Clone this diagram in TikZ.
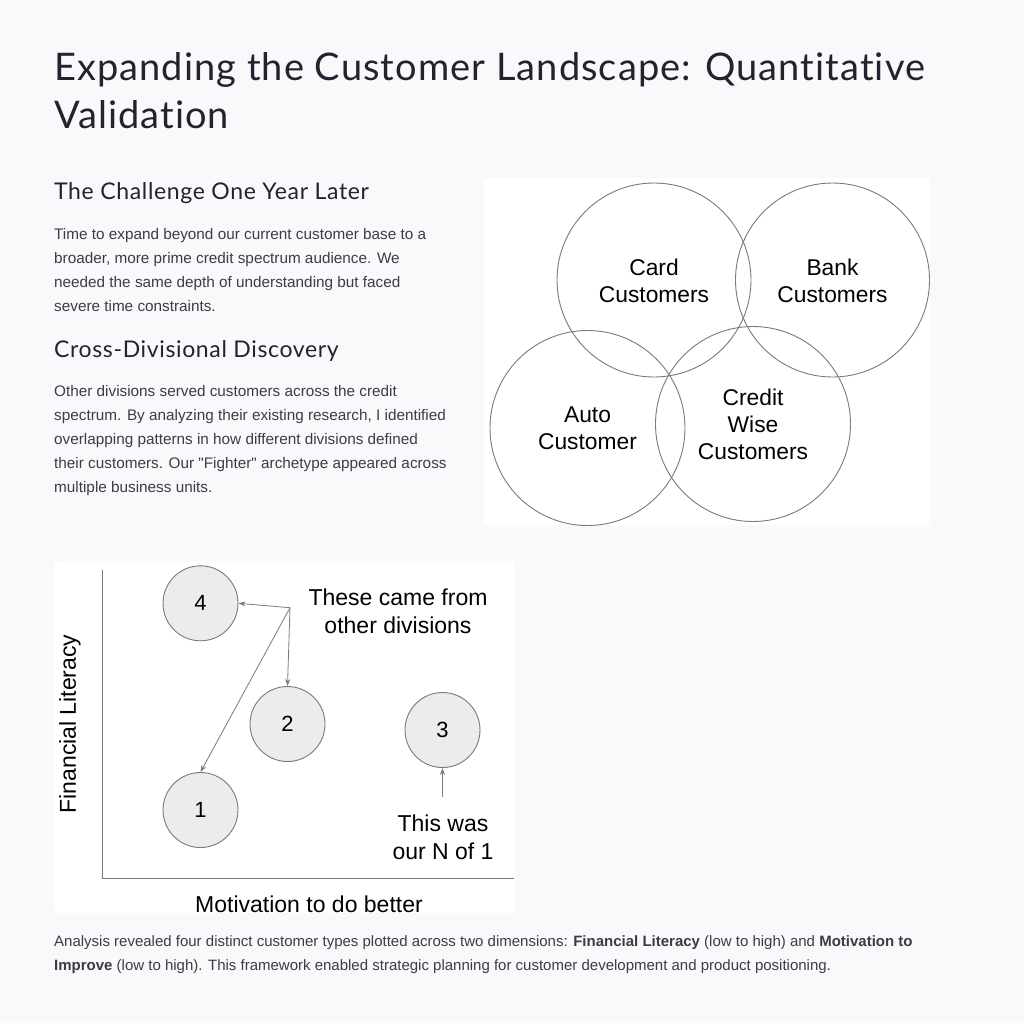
\documentclass[tikz,border=0pt]{standalone}
\usepackage{fontspec}
\setmainfont{Liberation Sans}
\newfontfamily\headfont[LetterSpace=2.8,Ligatures=NoCommon]{Lato}
\newfontfamily\bodyfont{Liberation Sans}
\usetikzlibrary{arrows.meta}
\definecolor{pagebg}{HTML}{F9F9FB}
\definecolor{titlecol}{HTML}{22232F}
\definecolor{bodycol}{HTML}{3C3C44}
\definecolor{ringcol}{HTML}{7A7A7A}
\definecolor{dotfill}{HTML}{ECECEC}
\begin{document}
\begin{tikzpicture}[x=1pt,y=-1pt,
  title/.style={anchor=base west,inner sep=0,text=titlecol,font=\headfont\fontsize{38}{46}\selectfont},
  head/.style={anchor=base west,inner sep=0,text=titlecol,font=\headfont\fontsize{23}{28}\selectfont},
  para/.style={anchor=north west,inner sep=0,text=bodycol,align=left,font=\bodyfont\fontsize{15.3}{24}\selectfont},
  panel/.style={fill=white,draw=none,rounded corners=4pt},
  venn/.style={circle,draw=ringcol,line width=0.9pt,inner sep=0},
  vlabel/.style={align=center,text=black,font=\fontsize{22.8}{27}\selectfont},
  dot/.style={circle,draw=ringcol,fill=dotfill,line width=0.9pt,minimum size=75pt,inner sep=0,font=\fontsize{22}{24}\selectfont},
  plabel/.style={align=center,text=black,font=\fontsize{23}{28}\selectfont},
  axis/.style={draw=ringcol,line width=0.9pt},
  pointer/.style={draw=ringcol,line width=0.8pt,-{Stealth[length=7pt,width=5pt]}}
]
\useasboundingbox (0,0) rectangle (1024,1023);
\fill[pagebg] (0,0) rectangle (1024,1023);

% title
\node[title] (t1) at (54,80) {Expanding the Customer Landscape: Quantitative};
\node[title] (t2) at (54,128) {Validation};

% left column
\node[head] (h1) at (54,199) {The Challenge One Year Later};
\node[para] (p1) at (54,228) {Time to expand beyond our current customer base to a\\broader, more prime credit spectrum audience. We\\needed the same depth of understanding but faced\\severe time constraints.};
\node[head] (h2) at (54,357) {Cross-Divisional Discovery};
\node[para] (p2) at (54,385) {Other divisions served customers across the credit\\spectrum. By analyzing their existing research, I identified\\overlapping patterns in how different divisions defined\\their customers. Our "Fighter" archetype appeared across\\multiple business units.};

% Venn panel
\fill[panel] (484,178) rectangle (930,525);
\node[venn,minimum size=194pt] (card) at (654,280) {};
\node[venn,minimum size=194pt] (bank) at (832.5,280) {};
\node[venn,minimum size=195pt] (auto) at (587.5,428) {};
\node[venn,minimum size=195pt] (wise) at (753,424) {};
\node[vlabel] (cardl) at (654,281) {Card\\Customers};
\node[vlabel] (bankl) at (832.5,281) {Bank\\Customers};
\node[vlabel] (autol) at (587.5,428.5) {Auto\\Customer};
\node[vlabel] (wisel) at (753,424.5) {Credit\\Wise\\Customers};

% plot panel
\fill[panel] (54,561) rectangle (515,913);
\coordinate (ytop) at (102.7,570);
\coordinate (orig) at (102.7,878);
\coordinate (xend) at (514,878);
\draw[axis] (ytop) -- (orig) -- (xend);
\node[dot] (d4) at (200.5,603.3) {4};
\node[dot] (d2) at (287.5,724) {2};
\node[dot] (d3) at (442.5,730) {3};
\node[dot] (d1) at (200.5,810) {1};
\node[plabel] (came) at (398,611) {These came from\\other divisions};
\node[plabel] (nof1) at (443,837) {This was\\our N of 1};
\coordinate (hub) at (290,607.7);
\coordinate (n1) at (442.5,797);
\draw[pointer] (hub) -- (d4.east);
\draw[pointer] (hub) -- (d2.north);
\draw[pointer] (hub) -- (d1.north);
\draw[pointer] (n1) -- (d3.south);
\node[plabel,rotate=90] (ylab) at (70,724) {Financial Literacy};
\node[plabel] (xlab) at (309,904) {Motivation to do better};

% bottom paragraph
\node[anchor=north west,inner sep=0,text=bodycol,align=left,font=\bodyfont\fontsize{15}{24}\selectfont] (p3) at (54,935) {Analysis revealed four distinct customer types plotted across two dimensions: \textbf{Financial Literacy} (low to high) and \textbf{Motivation to}\\\textbf{Improve} (low to high). This framework enabled strategic planning for customer development and product positioning.};
\end{tikzpicture}
\end{document}
